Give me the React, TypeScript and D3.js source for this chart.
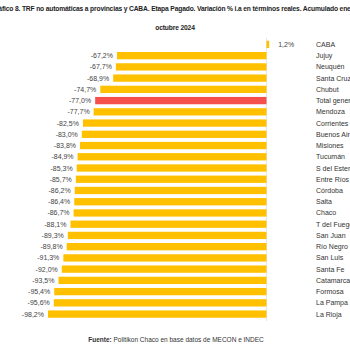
import * as d3 from "d3";
import { useEffect, useRef } from "react";

const provinces = [
  "CABA", "Jujuy", "Neuquén", "Santa Cruz", "Chubut", "Total general", "Mendoza",
  "Corrientes", "Buenos Aires", "Misiones", "Tucumán", "S del Estero", "Entre Ríos",
  "Córdoba", "Salta", "Chaco", "T del Fuego", "San Juan", "Río Negro", "San Luis",
  "Santa Fe", "Catamarca", "Formosa", "La Pampa", "La Rioja",
];
const variation = [
  1.2, -67.2, -67.7, -68.9, -74.7, -77.0, -77.7, -82.5, -83.0, -83.8, -84.9, -85.3,
  -85.7, -86.2, -86.4, -86.7, -88.1, -89.3, -89.8, -91.3, -92.0, -93.5, -95.4, -95.6, -98.2,
];
const highlight = "Total general";

const titleLines = [
  "Gráfico 8. TRF no automáticas a provincias y CABA. Etapa Pagado. Variación % i.a en términos reales. Acumulado enero-",
  "octubre 2024",
];

export default function App() {
  const ref = useRef<SVGSVGElement>(null);

  useEffect(() => {
    if (!ref.current) return;
    const width = 350;
    const height = 350;
    const svg = d3.select(ref.current);
    svg.selectAll("*").remove();
    svg.attr("width", width).attr("height", height);

    const font = "'Liberation Sans', Arial, sans-serif";
    const data = provinces.map((p, i) => ({ name: p, value: variation[i] }));

    const x = d3.scaleLinear().domain([-100, 0]).range([44, 266.5]);
    const y = d3
      .scaleBand()
      .domain(provinces)
      .range([38.8, 319.7])
      .paddingInner(0.35)
      .paddingOuter(0.175);

    // title
    svg
      .append("g")
      .selectAll("text")
      .data(titleLines)
      .join("text")
      .attr("x", width / 2)
      .attr("y", (d, i) => 11 + i * 18.5)
      .attr("text-anchor", "middle")
      .style("font-family", font)
      .style("font-size", "6.7px")
      .style("letter-spacing", "-0.15px")
      .style("font-weight", "700")
      .style("fill", "#222")
      .text((d) => d);

    // zero line
    svg
      .append("line")
      .attr("x1", x(0))
      .attr("x2", x(0))
      .attr("y1", 38)
      .attr("y2", 321)
      .attr("stroke", "#e0e0e0")
      .attr("stroke-width", 0.8);

    // bars
    svg
      .append("g")
      .selectAll("rect")
      .data(data)
      .join("rect")
      .attr("x", (d) => x(Math.min(0, d.value)))
      .attr("y", (d) => y(d.name)!)
      .attr("width", (d) => Math.abs(x(d.value) - x(0)))
      .attr("height", y.bandwidth())
      .attr("fill", (d) => (d.name === highlight ? "#F5504B" : "#FFC000"));

    // value labels
    const fmt = (v: number) => v.toFixed(1).replace(".", ",") + "%";
    svg
      .append("g")
      .selectAll("text")
      .data(data)
      .join("text")
      .attr("x", (d) => (d.value < 0 ? x(d.value) - 4 : x(d.value) + 9))
      .attr("y", (d) => y(d.name)! + y.bandwidth() / 2)
      .attr("dominant-baseline", "central")
      .attr("text-anchor", (d) => (d.value < 0 ? "end" : "start"))
      .style("font-family", font)
      .style("font-size", "7px")
      .style("fill", "#444")
      .text((d) => fmt(d.value));

    // province labels
    svg
      .append("g")
      .selectAll("text")
      .data(data)
      .join("text")
      .attr("x", 316)
      .attr("y", (d) => y(d.name)! + y.bandwidth() / 2)
      .attr("dominant-baseline", "central")
      .style("font-family", font)
      .style("font-size", "7px")
      .style("fill", "#333")
      .text((d) => d.name);

    // source
    const src = svg
      .append("text")
      .attr("x", 176)
      .attr("y", 342)
      .attr("text-anchor", "middle")
      .style("font-family", font)
      .style("font-size", "6.5px")
      .style("fill", "#333");
    src.append("tspan").style("font-weight", "700").text("Fuente: ");
    src.append("tspan").text("Politikon Chaco en base datos de MECON e INDEC");
  }, []);

  return (
    <svg
      ref={ref}
      style={{ position: "fixed", top: 0, left: 0, background: "#fff", display: "block" }}
    />
  );
}
